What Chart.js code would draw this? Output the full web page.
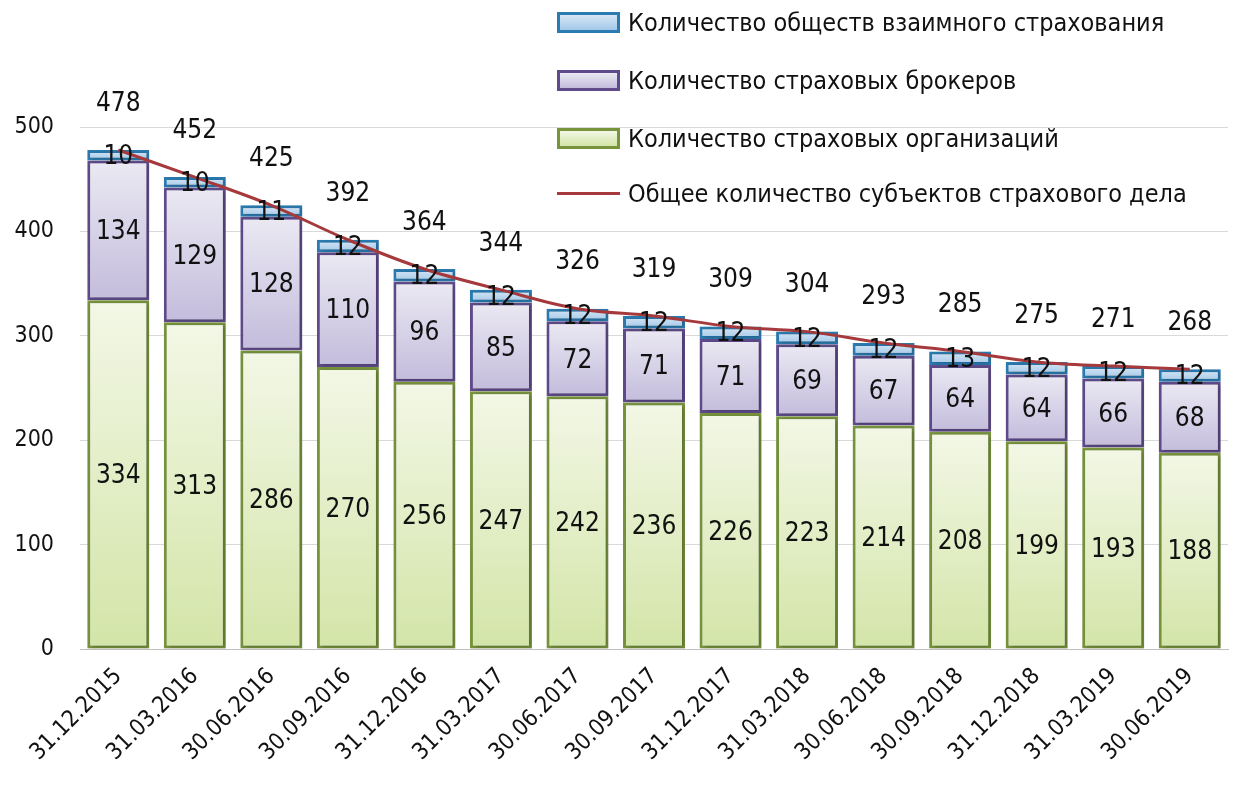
<!DOCTYPE html>
<html lang="ru">
<head>
<meta charset="utf-8">
<script src="https://cdn.jsdelivr.net/npm/chart.js@4.4.1/dist/chart.umd.min.js"></script>
<style>
    body { margin: 0; background: #fff; }
    #wrap { position: relative; width: 1238px; height: 793px; }
    .legend { position: absolute; left: 557px; top: 0; font-family: 'DejaVu Sans Condensed', 'DejaVu Sans', sans-serif; font-size: 25px; color: #111; }
    .legend .item { position: absolute; left: 0; height: 30px; display: flex; align-items: center; white-space: nowrap; }
    .legend .box { width: 57px; height: 15px; border: 3px solid; margin-right: 8px; }
    .legend .line { width: 63px; height: 3px; margin-right: 8px; }
</style>
</head>
<body>
<div id="wrap">
    <canvas id="chart" width="1238" height="793"></canvas>
    <div class="legend">
        <div class="item" style="top:7px"><span class="box" style="border-color:#2a7bb0;background:linear-gradient(#d6e6f5,#a3c8e8)"></span>Количество обществ взаимного страхования</div>
        <div class="item" style="top:65px"><span class="box" style="border-color:#5f4b8b;background:linear-gradient(#ebe9f3,#c3bcdc)"></span>Количество страховых брокеров</div>
        <div class="item" style="top:123px"><span class="box" style="border-color:#77933c;background:linear-gradient(#f2f7e4,#d3e5a8)"></span>Количество страховых организаций</div>
        <div class="item" style="top:178px"><span class="line" style="background:#a5393b"></span>Общее количество субъектов страхового дела</div>
    </div>
</div>
<script>
const FONT = "'DejaVu Sans Condensed', 'DejaVu Sans', sans-serif";

const dates = ['31.12.2015', '31.03.2016', '30.06.2016', '30.09.2016', '31.12.2016', '31.03.2017', '30.06.2017',
    '30.09.2017', '31.12.2017', '31.03.2018', '30.06.2018', '30.09.2018', '31.12.2018', '31.03.2019', '30.06.2019'];
const insurers = [334, 313, 286, 270, 256, 247, 242, 236, 226, 223, 214, 208, 199, 193, 188];
const brokers = [134, 129, 128, 110, 96, 85, 72, 71, 71, 69, 67, 64, 64, 66, 68];
const mutuals = [10, 10, 11, 12, 12, 12, 12, 12, 12, 12, 12, 13, 12, 12, 12];
const totals = [478, 452, 425, 392, 364, 344, 326, 319, 309, 304, 293, 285, 275, 271, 268];
const yTicks = [0, 100, 200, 300, 400, 500];

const stackOrder = [insurers, brokers, mutuals];

// вертикальный градиент внутри каждого сегмента
function segmentFill(light, dark) {
    return (c) => {
        const chart = c.chart;
        const y = chart.scales && chart.scales.y;
        if (!y || c.dataIndex === undefined) return dark;
        let start = 0;
        for (let k = 0; k < c.datasetIndex; k++) start += stackOrder[k][c.dataIndex];
        const end = start + stackOrder[c.datasetIndex][c.dataIndex];
        const top = y.getPixelForValue(end);
        const bottom = y.getPixelForValue(start);
        if (!isFinite(top) || !isFinite(bottom) || top === bottom) return dark;
        const g = chart.ctx.createLinearGradient(0, top, 0, bottom);
        g.addColorStop(0, light);
        g.addColorStop(1, dark);
        return g;
    };
}

const valueLabels = {
    id: 'valueLabels',
    afterDatasetsDraw(chart) {
        const ctx = chart.ctx;
        ctx.save();
        ctx.font = '26px ' + FONT;
        ctx.fillStyle = '#111';
        ctx.textAlign = 'center';
        ctx.textBaseline = 'middle';
        chart.data.datasets.forEach((ds, i) => {
            const meta = chart.getDatasetMeta(i);
            meta.data.forEach((el, j) => {
                if (meta.type === 'bar') {
                    ctx.fillText(ds.data[j], el.x, (el.y + el.base) / 2 + 2);
                } else {
                    ctx.fillText(ds.data[j], el.x, el.y - 46);
                }
            });
        });
        ctx.restore();
    }
};

const barShadow = {
    id: 'barShadow',
    beforeDatasetDraw(chart, args) {
        if (args.meta.type !== 'bar') return;
        const ctx = chart.ctx;
        ctx.save();
        ctx.shadowColor = 'rgba(0,0,0,0.25)';
        ctx.shadowBlur = 4;
        ctx.shadowOffsetX = 2;
        ctx.shadowOffsetY = 1;
    },
    afterDatasetDraw(chart, args) {
        if (args.meta.type !== 'bar') return;
        chart.ctx.restore();
    }
};

new Chart(document.getElementById('chart'), {
    data: {
        labels: dates,
        datasets: [
            {
                type: 'bar',
                label: 'Количество страховых организаций',
                data: insurers,
                backgroundColor: segmentFill('#f3f7e6', '#d3e5a8'),
                borderColor: '#77933c',
                borderWidth: 3,
                borderSkipped: false,
                categoryPercentage: 0.81,
                barPercentage: 1,
                order: 2
            },
            {
                type: 'bar',
                label: 'Количество страховых брокеров',
                data: brokers,
                backgroundColor: segmentFill('#ebe9f3', '#c3bcdc'),
                borderColor: '#5f4b8b',
                borderWidth: 3,
                borderSkipped: false,
                categoryPercentage: 0.81,
                barPercentage: 1,
                order: 2
            },
            {
                type: 'bar',
                label: 'Количество обществ взаимного страхования',
                data: mutuals,
                backgroundColor: segmentFill('#d6e6f5', '#a3c8e8'),
                borderColor: '#2a7bb0',
                borderWidth: 3,
                borderSkipped: false,
                categoryPercentage: 0.81,
                barPercentage: 1,
                order: 2
            },
            {
                type: 'line',
                label: 'Общее количество субъектов страхового дела',
                data: totals,
                stack: 'total',
                borderColor: '#a5393b',
                borderWidth: 3,
                tension: 0.35,
                pointRadius: 0,
                fill: false,
                order: 1
            }
        ]
    },
    options: {
        responsive: false,
        animation: false,
        layout: { padding: { top: 127, right: 10, left: 0, bottom: 0 } },
        plugins: {
            legend: { display: false },
            tooltip: { enabled: false }
        },
        scales: {
            x: {
                stacked: true,
                grid: { display: false },
                border: { display: true, color: '#bfbfbf', width: 1 },
                ticks: {
                    color: '#111',
                    font: { family: FONT, size: 23 },
                    maxRotation: 45,
                    minRotation: 45,
                    padding: 6
                },
                afterFit: (scale) => { scale.height = 144; }
            },
            y: {
                stacked: true,
                min: 0,
                max: 500,
                afterBuildTicks: (scale) => { scale.ticks = yTicks.map(v => ({ value: v })); },
                grid: { color: '#d9d9d9', lineWidth: 1, drawTicks: false },
                border: { display: false },
                ticks: {
                    color: '#111',
                    font: { family: FONT, size: 23 },
                    padding: 26
                },
                afterFit: (scale) => { scale.width = 80; }
            }
        }
    },
    plugins: [barShadow, valueLabels]
});
</script>
</body>
</html>
